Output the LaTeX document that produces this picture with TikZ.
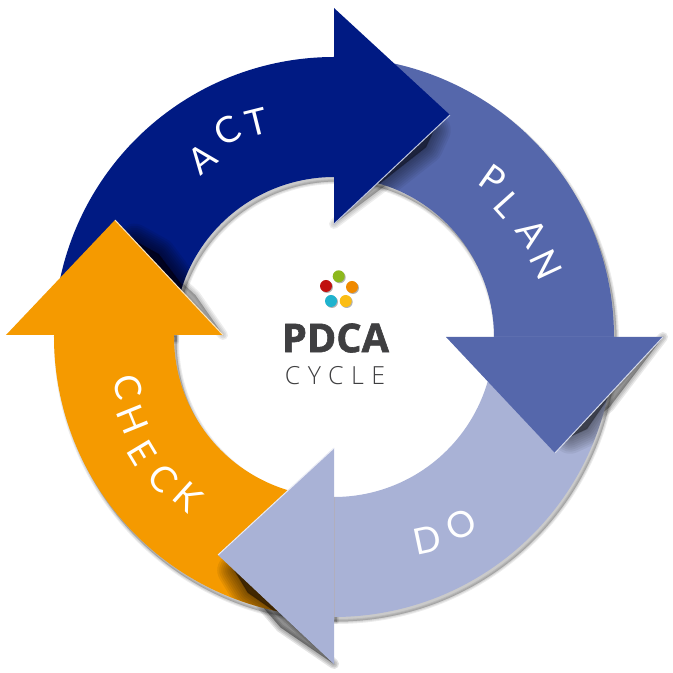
\documentclass[tikz,border=0pt]{standalone}
\usepackage{fontspec}
\usetikzlibrary{calc}
\newfontfamily\ringfont{Lato}
\newfontfamily\titlefont{Open Sans}[BoldFeatures={FakeBold=1.5}]
\newfontfamily\cyclefont{Open Sans Light}[LetterSpace=30]
\definecolor{Act_Navy}{HTML}{001A83}
\definecolor{Plan_Blue}{HTML}{5567AB}
\definecolor{Do_Blue}{HTML}{A9B2D6}
\definecolor{Check_Orange}{HTML}{F59A00}
\definecolor{Title_Gray}{HTML}{3F3F41}

% Ring sections, each one running a little way under the head that follows it
\newcommand{\actband}{(180:2.8) arc[start angle=180, end angle=88, radius=2.8] -- (88:1.6) arc[start angle=88, end angle=180, radius=1.6] -- cycle}
\newcommand{\planband}{(90:2.8) arc[start angle=90, end angle=-2, radius=2.8] -- (-2:1.6) arc[start angle=-2, end angle=90, radius=1.6] -- cycle}
\newcommand{\doband}{(0:2.8) arc[start angle=0, end angle=-92, radius=2.8] -- (-92:1.6) arc[start angle=-92, end angle=0, radius=1.6] -- cycle}
\newcommand{\checkband}{(-90:2.8) arc[start angle=-90, end angle=-182, radius=2.8] -- (-182:1.6) arc[start angle=-182, end angle=-90, radius=1.6] -- cycle}

% Stacked translucent copies give a soft edge
\newcommand{\edgelist}{5,3,1}
\newcommand{\striplist}{10,7,4,1}
\newcommand{\blurlist}{34,30,26,22,18,14,10,6,2}
\newcommand{\softshade}[3][\edgelist]{%
    \foreach \w in #1 {
        \draw[black, fill=black, opacity=#2, line join=round, line width=\w*0.01cm] #3;
    }
}

\tikzset{
    ringlabel/.style={text=white, font=\ringfont\fontsize{10.3}{12}\selectfont, inner sep=0pt},
    colordot/.style={circle, minimum size=0.12cm, inner sep=0pt}
}

\begin{document}
\begin{tikzpicture}
    \useasboundingbox (-3.34,-3.36) rectangle (3.38,3.37);

    % Corners of the arrow heads
    \coordinate (acttop) at (0,3.29);  \coordinate (acttip) at (1.16,2.22);  \coordinate (actlow) at (0,1.13);
    \coordinate (planin) at (1.12,0);  \coordinate (plantip) at (2.21,-1.16);  \coordinate (planout) at (3.29,0);
    \coordinate (dotop) at (0,-1.11);  \coordinate (dotip) at (-1.16,-2.18);  \coordinate (dolow) at (0,-3.27);
    \coordinate (checkout) at (-3.28,0.02);  \coordinate (checktip) at (-2.19,1.17);  \coordinate (checkin) at (-1.11,0.02);

    % Drop shadow of the ring on the paper
    \begin{scope}[shift={(0.025,-0.045)}]
        \softshade{0.075}{\actband}
        \softshade{0.075}{\planband}
        \softshade{0.075}{\doband}
        \softshade{0.075}{\checkband}
    \end{scope}

    % Tapered shadow strips under the lower edge of each head
    \softshade[\striplist]{0.07}{(acttip) -- (actlow) -- ($(acttip)!.6!(actlow)+(0.05,-0.05)$) -- cycle}
    \softshade[\striplist]{0.09}{(plantip) -- (planout) -- ($(plantip)!.45!(planout)+(0.06,-0.06)$) -- cycle}
    \softshade[\striplist]{0.11}{(dotip) -- (dolow) -- ($(dotip)!.6!(dolow)+(-0.07,-0.07)$) -- cycle}
    \softshade[\striplist]{0.07}{(checktip) -- (checkin) -- ($(checktip)!.7!(checkin)+(0.05,0.05)$) -- cycle}

    % Ring sections
    \fill[Act_Navy] \actband;
    \fill[Plan_Blue] \planband;
    \fill[Do_Blue] \doband;
    \fill[Check_Orange] \checkband;

    % Dark shade that each head throws on the next section
    \begin{scope}
        \clip \planband;
        \softshade[\blurlist]{0.055}{($(acttip)!.14!(actlow)$) -- ($(acttip)!.75!(actlow)$) -- ($(acttip)!.25!(actlow)+(0.05,-0.05)$) -- cycle}
    \end{scope}
    \begin{scope}
        \clip \doband;
        \softshade[\blurlist]{0.055}{($(plantip)!.14!(planout)$) -- ($(plantip)!.55!(planout)$) -- ($(plantip)!.25!(planout)+(0.05,-0.05)$) -- cycle}
    \end{scope}
    \begin{scope}
        \clip \checkband;
        \softshade[\blurlist]{0.07}{($(dotip)!.14!(dolow)$) -- ($(dotip)!.6!(dolow)$) -- ($(dotip)!.3!(dolow)+(-0.05,-0.05)$) -- cycle}
    \end{scope}
    \begin{scope}
        \clip \actband;
        \softshade[\blurlist]{0.075}{($(checktip)!.18!(checkin)$) -- ($(checktip)!.85!(checkin)$) -- ($(checktip)!.35!(checkin)+(0.06,0.06)$) -- cycle}
    \end{scope}

    % Arrow heads
    \fill[Act_Navy] (acttop) -- (acttip) -- (actlow) -- cycle;
    \fill[Plan_Blue] (planin) -- (plantip) -- (planout) -- cycle;
    \fill[Do_Blue] (dotop) -- (dotip) -- (dolow) -- cycle;
    \fill[Check_Orange] (checkout) -- (checktip) -- (checkin) -- cycle;

    % Light rim on the shaded edge of the heads
    \draw[white!75!Act_Navy, line width=0.01cm] (acttip) -- (actlow);
    \draw[white!75!Plan_Blue, line width=0.01cm] (plantip) -- (planout);
    \draw[white!75!Do_Blue, line width=0.01cm] (dotip) -- (dotop);
    \draw[white!75!Check_Orange, line width=0.01cm] (checktip) -- (checkin);

    % Letters around the ring
    \foreach \ltr/\ang/\rad/\rot [count=\i] in {A/126.4/2.22/38, C/117.3/2.33/27, T/109.7/2.28/14} {
        \node[ringlabel, rotate=\rot] (act\i) at (\ang:\rad) {\ltr};
    }
    \foreach \ltr/\ang/\rad/\rot [count=\i] in {P/44.8/2.24/-35, L/37.2/2.18/-48, A/27.7/2.24/-55, N/18.8/2.24/-65} {
        \node[ringlabel, rotate=\rot] (plan\i) at (\ang:\rad) {\ltr};
    }
    \foreach \ltr/\ang/\rad/\rot [count=\i] in {D/294.6/2.23/12, O/304.2/2.27/25} {
        \node[ringlabel, rotate=\rot] (do\i) at (\ang:\rad) {\ltr};
    }
    \foreach \ltr/\ang/\rad/\rot [count=\i] in {C/193.6/2.12/-76, H/202.3/2.18/-68, E/211.1/2.24/-59, C/219.5/2.22/-50, K/227.6/2.17/-42} {
        \node[ringlabel, rotate=\rot] (check\i) at (\ang:\rad) {\ltr};
    }

    % Five dots above the title
    \foreach \nm/\x/\y/\col in {green/0.047/0.607/8DB81C, red/-0.08/0.51/C0100F, orange/0.18/0.50/F08A00, cyan/-0.03/0.36/1FB3CE, yellow/0.117/0.36/FBBD14} {
        \definecolor{dotcolor}{HTML}{\col}
        \node[colordot, fill=black!30] at (\x+0.01,\y-0.01) {};
        \node[colordot, fill=dotcolor] (\nm) at (\x,\y) {};
    }

    % Title in the middle
    \node[text=Title_Gray, font=\titlefont\bfseries\fontsize{11.3}{14}\selectfont, inner sep=0pt] (title) at (0.015,-0.01) {PDCA};
    \node[text=Title_Gray, font=\cyclefont\fontsize{7.1}{8}\selectfont, inner sep=0pt] (cycle) at (0.01,-0.39) {CYCLE};
\end{tikzpicture}
\end{document}
